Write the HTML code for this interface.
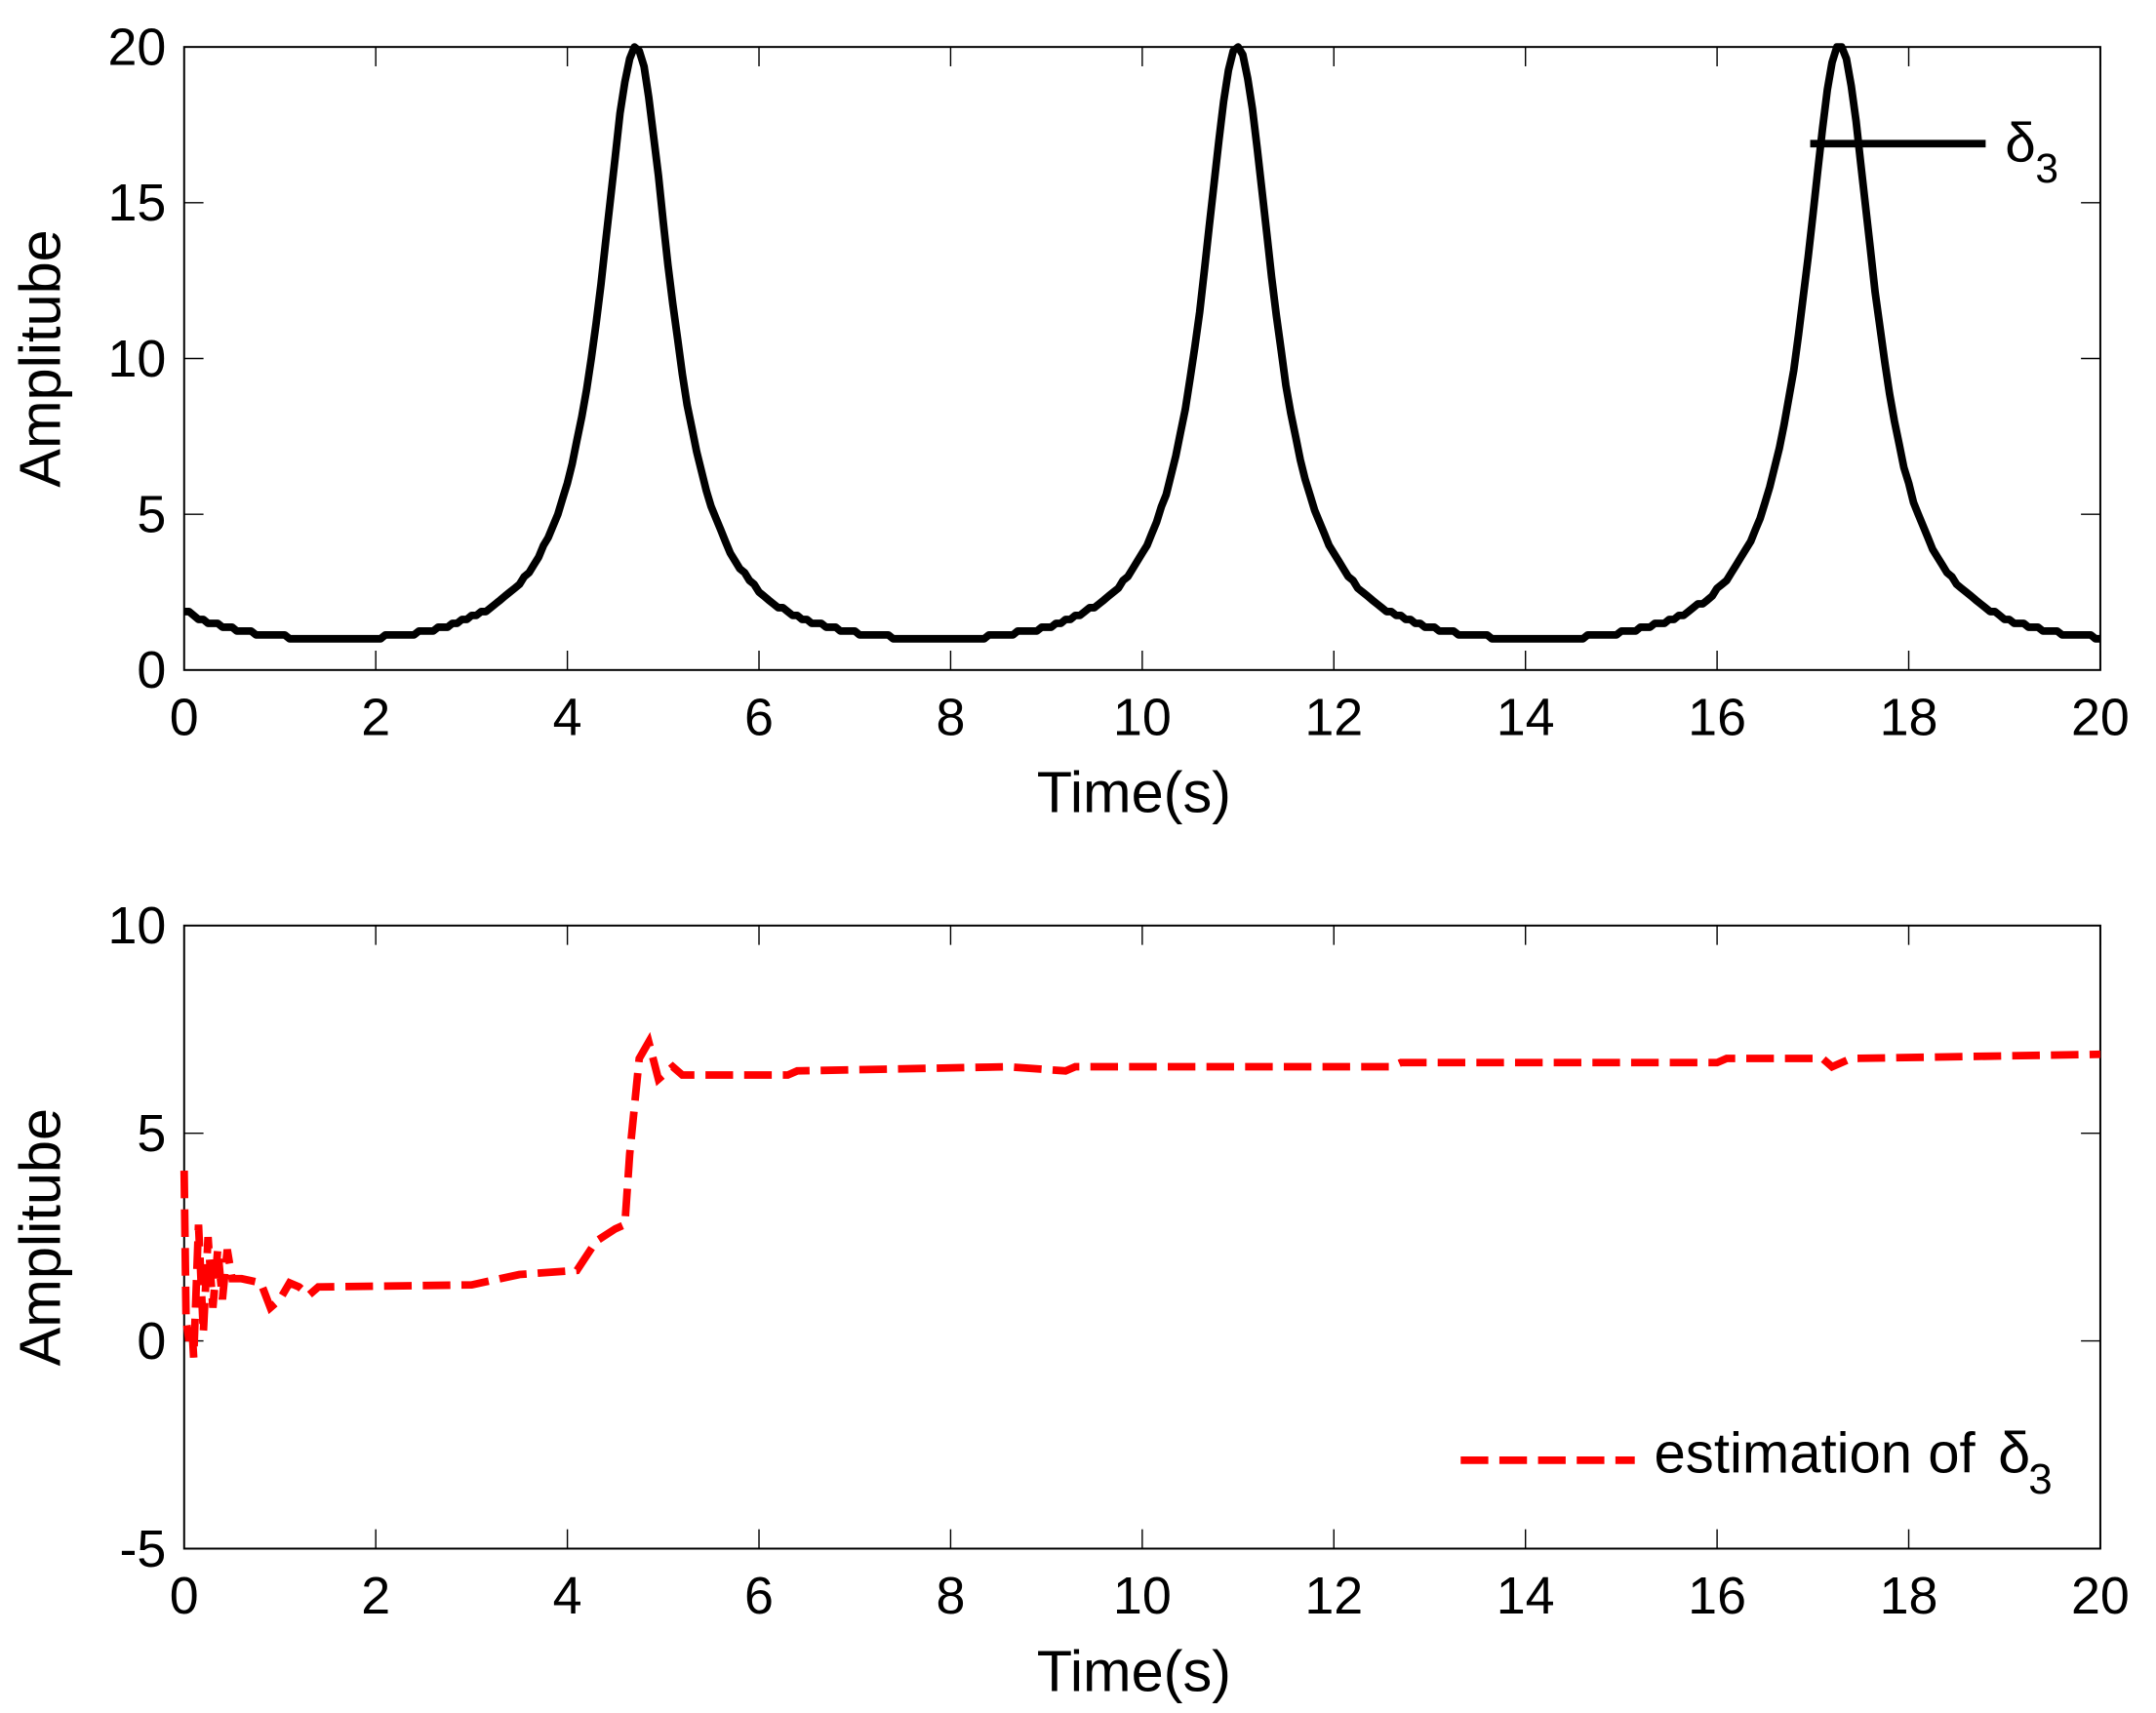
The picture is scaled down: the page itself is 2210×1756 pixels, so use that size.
<!DOCTYPE html>
<html><head><meta charset="utf-8"><style>
html,body{margin:0;padding:0;background:#fff}
svg{display:block}
text{font-family:"Liberation Sans",Arial,sans-serif;fill:#000}
</style></head><body>
<svg id="s" width="2210" height="1756" viewBox="0 0 1560 1240" xmlns="http://www.w3.org/2000/svg">
<rect width="1560" height="1240" fill="#fff"/>
<g id="g"></g>
</svg>
<script>
const NS="http://www.w3.org/2000/svg",g=document.getElementById('g');
function el(t,a,txt){const e=document.createElementNS(NS,t);for(const k in a)e.setAttribute(k,a[k]);if(txt!==undefined)e.textContent=txt;g.appendChild(e);return e;}
const X0=133,X1=1520;
function axes(yT,yB,ymin,ymax,ystep){
  const sx=t=>X0+(X1-X0)*t/20, sy=v=>yB-(yB-yT)*(v-ymin)/(ymax-ymin);
  el('rect',{x:X0,y:yT,width:X1-X0,height:yB-yT,fill:'none',stroke:'#000','stroke-width':1.4});
  for(let t=0;t<=20;t+=2){const x=sx(t);
    el('line',{x1:x,y1:yB,x2:x,y2:yB-14,stroke:'#000','stroke-width':1});
    el('line',{x1:x,y1:yT,x2:x,y2:yT+14,stroke:'#000','stroke-width':1});
    el('text',{x:x,y:yB+47,'font-size':38,'text-anchor':'middle'},t);}
  for(let v=ymin;v<=ymax;v+=ystep){const y=sy(v);
    el('line',{x1:X0,y1:y,x2:X0+14,y2:y,stroke:'#000','stroke-width':1});
    el('line',{x1:X1,y1:y,x2:X1-14,y2:y,stroke:'#000','stroke-width':1});
    el('text',{x:X0-13,y:y+13,'font-size':38,'text-anchor':'end'},v);}
  el('text',{x:(X0+X1)/2-6,y:yB+103,'font-size':42,'text-anchor':'middle'},'Time(s)');
  el('text',{x:0,y:0,'font-size':42,'text-anchor':'middle',transform:`translate(43,${(yT+yB)/2}) rotate(-90)`},'Amplitube');
  return [sx,sy];
}
let [sx,sy]=axes(34,485,0,20,5);
let d='';
for(let i=0;i<=400;i++){const t=i*0.05;let v=2.105/(1.105+Math.sin(t));v=Math.min(v,20);v=Math.round(v*8)/8;
  d+=(i?'L':'M')+sx(t).toFixed(1)+','+sy(v).toFixed(1);}
el('path',{d:d,fill:'none',stroke:'#000','stroke-width':5.5,'stroke-linejoin':'round'});
el('line',{x1:1310,y1:104,x2:1437,y2:104,stroke:'#000','stroke-width':5.5});
el('text',{x:1451,y:117,'font-size':40,'font-family':'"Liberation Serif",serif'},'δ');
el('text',{x:1473,y:132,'font-size':30},'3');
[sx,sy]=axes(670,1121,-5,10,5);
const P=[[0,4.1],[0.02,0.5],[0.05,0],[0.08,0.4],[0.1,-0.4],[0.15,2.8],[0.2,0.2],[0.25,2.5],[0.3,0.8],[0.35,2.2],[0.4,1],[0.45,2.2],[0.5,1.5],[0.6,1.5],[0.8,1.4],[0.9,0.8],[1.0,1.0],[1.1,1.4],[1.2,1.3],[1.3,1.1],[1.4,1.3],[3,1.35],[3.5,1.6],[4.1,1.7],[4.3,2.4],[4.5,2.7],[4.6,2.8],[4.65,4.5],[4.75,6.8],[4.85,7.2],[4.95,6.3],[5.1,6.6],[5.2,6.4],[6.3,6.4],[6.4,6.5],[8.6,6.6],[9.2,6.5],[9.3,6.6],[12.6,6.6],[12.7,6.7],[16,6.7],[16.1,6.8],[17.1,6.8],[17.2,6.6],[17.4,6.8],[20,6.9]];
d=P.map((p,i)=>(i?'L':'M')+sx(p[0]).toFixed(1)+','+sy(p[1]).toFixed(1)).join('');
el('path',{d:d,fill:'none',stroke:'#f00','stroke-width':5.5,'stroke-dasharray':'20,8'});
el('line',{x1:1057,y1:1057,x2:1183,y2:1057,stroke:'#f00','stroke-width':5.5,'stroke-dasharray':'20,8'});
el('text',{x:1197,y:1066,'font-size':41},'estimation of');
el('text',{x:1446,y:1066,'font-size':42,'font-family':'"Liberation Serif",serif'},'δ');
el('text',{x:1468,y:1081,'font-size':31},'3');
</script>
</body></html>
